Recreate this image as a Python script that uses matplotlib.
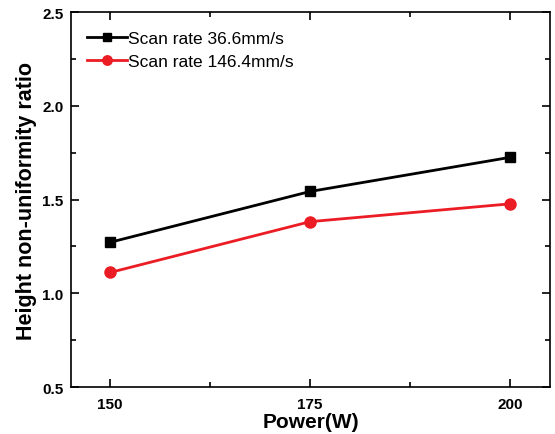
import matplotlib
matplotlib.use("Agg")
import matplotlib.pyplot as plt
from matplotlib.ticker import MultipleLocator

plt.rcParams["font.family"] = ["Liberation Sans", "DejaVu Sans"]

power = [150, 175, 200]
ratio_36 = [1.272, 1.543, 1.725]
ratio_146 = [1.111, 1.382, 1.477]
labels = ["Scan rate 36.6mm/s", "Scan rate 146.4mm/s"]

fig = plt.figure(figsize=(5.55, 4.35), dpi=100)
ax = fig.add_axes([0.128, 0.108, 0.863, 0.862])

ax.plot(power, ratio_36, color="black", marker="s", markersize=6.5, linewidth=2, label=labels[0])
ax.plot(power, ratio_146, color="#ec1c24", marker="o", markersize=8, linewidth=2, label=labels[1])

ax.set_xlim(145.1, 205)
ax.set_ylim(0.5, 2.5)
ax.set_xticks(power)
ax.xaxis.set_minor_locator(MultipleLocator(12.5))
ax.yaxis.set_major_locator(MultipleLocator(0.5))
ax.yaxis.set_minor_locator(MultipleLocator(0.25))
ax.tick_params(which="both", direction="in", top=True, right=True, width=1.2)
ax.tick_params(which="major", length=6, labelsize=11)
ax.tick_params(which="minor", length=3.5)
ax.tick_params(axis="x", which="major", pad=7)
ax.tick_params(axis="y", which="major", pad=5.5)
for lbl in ax.get_xticklabels() + ax.get_yticklabels():
    lbl.set_fontweight("bold")
for sp in ax.spines.values():
    sp.set_linewidth(1.2)

ax.set_xlabel("Power(W)", fontsize=15, fontweight="bold", labelpad=1)
ax.set_ylabel("Height non-uniformity ratio", fontsize=15.5, fontweight="bold", labelpad=4)

ax.legend(loc="upper left", bbox_to_anchor=(0.019, 0.968), borderaxespad=0,
          frameon=False, fontsize=12.5, handlelength=2.3, markerscale=0.85,
          handletextpad=0.05, labelspacing=0.42)

fig.savefig("out.png", dpi=100)
